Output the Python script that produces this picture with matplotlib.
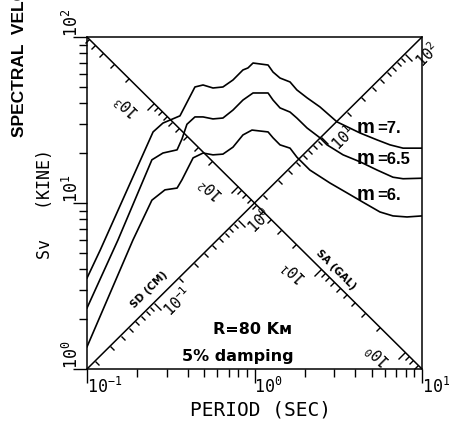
import numpy as np
import matplotlib.pyplot as plt
from matplotlib.markers import MarkerStyle, TICKRIGHT
from matplotlib.transforms import Affine2D

plt.rcParams['mathtext.fontset'] = 'custom'
plt.rcParams['mathtext.rm'] = 'DejaVu Sans Mono'
plt.rcParams['mathtext.default'] = 'rm'

# response spectra: period (s), Sv (kine)
period_m7 = [0.10, 0.12, 0.248, 0.284, 0.359, 0.441, 0.493, 0.565, 0.648, 0.744, 0.853,
             0.914, 0.98, 1.205, 1.29, 1.42, 1.63, 1.79, 2.06, 2.46, 3.11, 4.27, 5.39,
             6.44, 7.71, 10.0]
sv_m7 = [3.53, 5.21, 26.8, 30.3, 33.5, 50.0, 51.4, 49.3, 50.0, 55.1, 63.3,
         65.1, 69.7, 67.8, 61.5, 56.6, 53.6, 48.0, 43.0, 37.9, 30.8, 26.4, 24.0,
         22.4, 21.4, 21.4]

period_m65 = [0.10, 0.153, 0.244, 0.284, 0.345, 0.369, 0.395, 0.441, 0.493, 0.565, 0.648,
              0.744, 0.853, 0.98, 1.205, 1.29, 1.42, 1.63, 1.79, 2.06, 2.46, 2.71, 3.38,
              4.27, 5.39, 6.71, 7.71, 10.0]
sv_m65 = [2.33, 5.98, 18.2, 20.0, 20.9, 24.3, 29.8, 33.0, 33.0, 32.1, 32.5,
          36.3, 41.7, 46.0, 46.0, 41.7, 37.4, 35.3, 32.5, 28.3, 24.7, 22.4, 19.5,
          17.7, 15.8, 14.3, 14.0, 14.1]

period_m6 = [0.10, 0.188, 0.244, 0.292, 0.345, 0.369, 0.43, 0.493, 0.565, 0.648, 0.744,
             0.853, 0.966, 1.205, 1.29, 1.42, 1.63, 1.79, 2.14, 2.82, 3.57, 4.45, 5.61,
             6.71, 8.14, 10.0]
sv_m6 = [1.36, 5.98, 10.4, 12.0, 12.3, 13.8, 18.7, 20.0, 19.5, 19.7, 21.7,
         25.7, 27.5, 26.8, 24.7, 22.4, 21.4, 18.9, 15.8, 13.2, 11.5, 10.1, 8.83,
         8.36, 8.24, 8.36]

curve_labels = ['=7.', '=6.5', '=6.']
x_ticks = [0.1, 1, 10]
x_ticklabels = ['$10^{-1}$', '$10^{0}$', '$10^{1}$']
y_ticks = [1, 10, 100]
y_ticklabels = ['$10^{0}$', '$10^{1}$', '$10^{2}$']
sd_labels = {0.1: '$10^{-1}$', 1: '$10^{0}$', 10: '$10^{1}$', 100: '$10^{2}$'}
sa_labels = {1000: '$10^{3}$', 100: '$10^{2}$', 10: '$10^{1}$', 1: '$10^{0}$'}

W, H = 449, 421
PT = 72 / 100  # px -> points

fig = plt.figure(figsize=(W / 100, H / 100), dpi=100)
ax = fig.add_axes([87 / W, 52 / H, 335 / W, 332 / H])
ax.set_xscale('log')
ax.set_yscale('log')
ax.set_xlim(0.1, 10)
ax.set_ylim(1, 100)

for p, s in [(period_m7, sv_m7), (period_m65, sv_m65), (period_m6, sv_m6)]:
    ax.plot(p, s, color='k', lw=1.2)

# the two diagonals of the tripartite grid
ax.plot([0.1, 10], [1, 100], color='k', lw=1.1)
ax.plot([0.1, 10], [100, 1], color='k', lw=1.1)

ax.tick_params(which='both', direction='out', top=False, right=False,
               labelbottom=False, labelleft=False, width=1, color='k')
ax.tick_params(which='major', length=10)
ax.tick_params(which='minor', length=6)
for sp in ax.spines.values():
    sp.set_linewidth(1.1)

for v, lab in zip(x_ticks, x_ticklabels):
    ax.annotate(lab, xy=(v, 0), xycoords=('data', 'axes fraction'),
                xytext=(0, -8 * PT), textcoords='offset points',
                ha='left', va='top', fontsize=12)
for v, lab in zip(y_ticks, y_ticklabels):
    ax.annotate(lab, xy=(0, v), xycoords=('axes fraction', 'data'),
                xytext=(-15 * PT, 0), textcoords='offset points',
                ha='center', va='bottom', rotation=90, fontsize=12)

# SD scale along the rising diagonal: SD = Sv*T/(2 pi)
def u_sd(d):
    return (np.log10(2 * np.pi * d) + 1) / 4

# SA scale along the falling diagonal: SA = 2 pi Sv / T
def u_sa(a):
    return (3 - np.log10(a / (2 * np.pi))) / 4

def tick_vals(lo, hi):
    out = []
    for n in range(lo, hi + 1):
        for k in range(1, 10):
            out.append((k * 10.0 ** n, k == 1))
    return out

for vals, ufun, ang, diag in [(tick_vals(-2, 2), u_sd, -45, 'up'),
                              (tick_vals(-1, 4), u_sa, -135, 'down')]:
    for major in (True, False):
        us = np.array([ufun(v) for v, m in vals if m == major])
        us = us[(us > 0.005) & (us < 0.995)]
        ys = us if diag == 'up' else 1 - us
        mk = MarkerStyle(TICKRIGHT, transform=Affine2D().rotate_deg(ang))
        ax.plot(us, ys, transform=ax.transAxes, ls='none', marker=mk,
                ms=(10 if major else 5) * PT, mew=1, color='k', clip_on=False)

s2 = np.sqrt(2)
for v, lab in sd_labels.items():
    u = u_sd(v)
    a, b = 2, 16
    dx = (a + b) / s2
    dy = (a - b) / s2
    ax.annotate(lab, xy=(u, u), xycoords='axes fraction',
                xytext=(dx * PT, dy * PT), textcoords='offset points',
                rotation=45, rotation_mode='anchor', ha='left', va='center',
                fontsize=11, annotation_clip=False)
for v, lab in sa_labels.items():
    u = u_sa(v)
    a, b = -4, 20
    dx = (a - b) / s2
    dy = (-a - b) / s2
    ax.annotate(lab, xy=(u, 1 - u), xycoords='axes fraction',
                xytext=(dx * PT, dy * PT), textcoords='offset points',
                rotation=135, rotation_mode='anchor', ha='left', va='center',
                fontsize=11, annotation_clip=False)

def ftext(px, py, s, **kw):
    fig.text(px / W, 1 - py / H, s, **kw)

ftext(149, 290, 'SD (CM)', rotation=45, rotation_mode='anchor', ha='center',
      va='center', fontsize=7.5, fontweight='bold')
ftext(336, 270, 'SA (GAL)', rotation=-45, rotation_mode='anchor', ha='center',
      va='center', fontsize=7.5, fontweight='bold')

for lab, py in zip(curve_labels, [133, 164, 200]):
    ftext(357, py, 'm', ha='left', va='baseline', fontsize=14.5, fontweight='bold',
          family='Liberation Sans')
    ftext(377, py, lab, ha='left', va='baseline', fontsize=12, fontweight='bold',
          family='Liberation Sans')

ftext(213, 329, 'R=80 K\u1d0d', ha='left', va='center', fontsize=11.5,
      fontweight='bold')
ftext(182, 356, '5% damping', ha='left', va='center', fontsize=11.5,
      fontweight='bold')

ftext(260, 410, 'PERIOD (SEC)', ha='center', va='center', fontsize=14,
      family='DejaVu Sans Mono')
ftext(45, 204, 'Sv   (KINE)', ha='center', va='center', rotation=90, fontsize=12,
      family='DejaVu Sans Mono')
ftext(20, 137, 'SPECTRAL  VELOCITY', ha='center', va='bottom', rotation=90,
      fontsize=12.5, fontweight='bold', family='Liberation Sans')

fig.savefig('out.png', dpi=100)
